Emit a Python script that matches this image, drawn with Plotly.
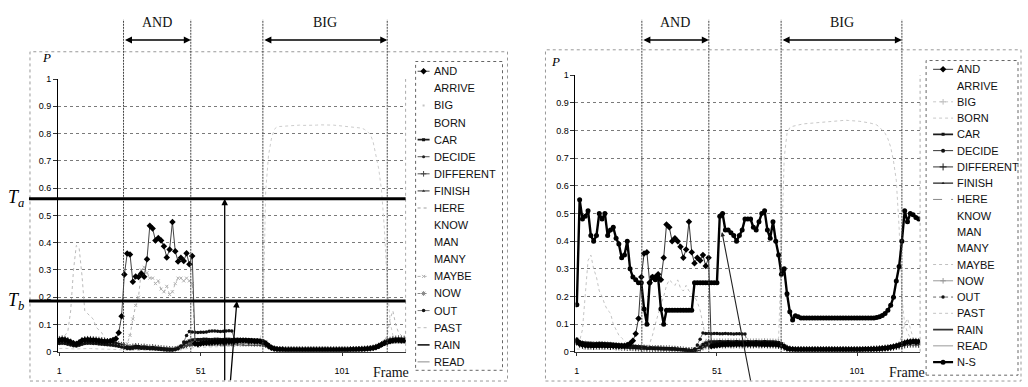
import plotly.graph_objects as go

W, H = 1028, 387
def fx(p): return p / W
def fy(p): return (H - p) / H

FRAMES = list(range(1, 124))
X_TICKS = [1, 51, 101]
Y_TICKS = [0, 0.1, 0.2, 0.3, 0.4, 0.5, 0.6, 0.7, 0.8, 0.9, 1.0]
Y_LABELS = ["0", "0.1", "0.2", "0.3", "0.4", "0.5", "0.6", "0.7", "0.8", "0.9", "1"]

TA, TB = 0.561, 0.186
REGIONS_L = [("AND", 23.7, 47.5), ("BIG", 73.0, 117.0)]
REGIONS_R = [("AND", 24.2, 48.1), ("BIG", 73.9, 117.0)]

LEGEND_L = ["AND", "ARRIVE", "BIG", "BORN", "CAR", "DECIDE", "DIFFERENT", "FINISH", "HERE",
            "KNOW", "MAN", "MANY", "MAYBE", "NOW", "OUT", "PAST", "RAIN", "READ"]
LEGEND_R = LEGEND_L + ["N-S"]

# ---------------- left panel values ----------------
L_AND = [.042,.044,.043,.040,.036,.031,.029,.034,.041,.043,
         .044,.043,.042,.041,.040,.039,.038,.038,.040,.043,
         .048,.070,.130,.283,.360,.357,.257,.276,.274,.287,
         .275,.339,.462,.452,.408,.417,.408,.387,.346,.375,
         .476,.369,.331,.345,.333,.361,.321,.351,.030,.028,
         .030,.032,.033,.034,.035,.036,.036,.037,.037,.038,
         .038,.039,.040,.040,.041,.041,.041,.040,.040,.039,
         .039,.038,.036,.030,.022,.015,.011,.009,.008,.008,
         .007,.007,.007,.007,.007,.007,.007,.007,.007,.007,
         .007,.007,.007,.007,.007,.007,.007,.007,.007,.007,
         .007,.007,.007,.008,.008,.008,.009,.009,.010,.011,
         .012,.014,.017,.021,.027,.032,.036,.039,.041,.042,
         .042,.041,.041]
L_BIG = [.012,.013,.013,.012,.011,.010,.010,.011,.012,.012,
         .012,.012,.011,.011,.011,.010,.010,.010,.009,.009,
         .008,.008,.007,.006,.005,.005,.005,.005,.005,.005,
         .005,.005,.005,.005,.005,.005,.005,.005,.005,.005,
         .005,.005,.006,.008,.010,.012,.014,.015,.016,.016,
         .017,.017,.017,.018,.018,.018,.019,.019,.019,.020,
         .020,.021,.022,.023,.024,.025,.026,.027,.028,.030,
         .033,.045,.100,.590,.720,.780,.815,.825,.826,.827,
         .828,.829,.830,.830,.831,.831,.830,.830,.829,.829,
         .830,.831,.832,.832,.833,.833,.832,.831,.830,.829,
         .828,.828,.827,.826,.825,.824,.823,.820,.815,.808,
         .798,.770,.720,.670,.590,.450,.250,.110,.060,.045,
         .040,.038,.036]
L_OUT = [.030,.031,.030,.028,.025,.022,.021,.024,.028,.030,
         .031,.031,.030,.030,.029,.028,.027,.026,.025,.024,
         .022,.020,.018,.015,.012,.011,.013,.015,.014,.013,
         .013,.012,.011,.011,.010,.009,.008,.007,.006,.006,
         .006,.008,.012,.020,.036,.060,.074,.073,.072,.071,
         .072,.072,.073,.075,.076,.076,.075,.074,.075,.076,
         .077,.076,.046,.044,.043,.043,.042,.042,.041,.041,
         .040,.040,.038,.032,.024,.017,.012,.010,.009,.009,
         .008,.008,.008,.008,.008,.008,.008,.008,.008,.008,
         .008,.008,.008,.008,.008,.008,.008,.008,.008,.008,
         .008,.008,.008,.008,.009,.009,.009,.010,.010,.011,
         .012,.013,.015,.018,.023,.029,.034,.038,.040,.041,
         .041,.040,.040]
L_PAST = [.050,.052,.060,.075,.150,.300,.390,.380,.280,.150,
          .140,.130,.120,.090,.080,.070,.050,.040,.035,.030,
          .028,.026,.024,.022,.020,.019,.020,.021,.020,.019,
          .019,.018,.017,.017,.016,.015,.014,.013,.012,.012,
          .011,.012,.014,.017,.020,.023,.025,.026,.027,.027,
          .027,.028,.028,.028,.028,.029,.029,.029,.029,.029,
          .029,.029,.029,.029,.028,.028,.028,.028,.027,.027,
          .027,.026,.025,.022,.018,.014,.011,.010,.009,.009,
          .009,.009,.009,.009,.009,.009,.009,.009,.009,.009,
          .009,.009,.009,.009,.009,.009,.009,.009,.009,.009,
          .009,.009,.009,.010,.010,.010,.011,.011,.012,.013,
          .014,.016,.019,.024,.030,.040,.060,.120,.150,.100,
          .070,.060,.050]
L_MAYBE = [.030,.031,.030,.028,.026,.023,.022,.025,.028,.030,
           .031,.031,.030,.030,.029,.028,.027,.026,.025,.024,
           .022,.021,.020,.020,.030,.060,.120,.170,.200,.300,
           .310,.290,.270,.270,.250,.260,.230,.220,.240,.210,
           .220,.250,.270,.270,.260,.270,.260,.250,.030,.030,
           .031,.031,.031,.032,.032,.032,.032,.032,.032,.032,
           .032,.032,.032,.032,.032,.031,.031,.031,.031,.030,
           .030,.029,.028,.025,.020,.015,.012,.010,.009,.009,
           .009,.009,.009,.009,.009,.009,.009,.009,.009,.009,
           .009,.009,.009,.009,.009,.009,.009,.009,.009,.009,
           .009,.009,.009,.009,.010,.010,.010,.011,.011,.012,
           .013,.014,.016,.019,.023,.028,.032,.035,.037,.038,
           .038,.038,.037]
L_CAR = [.045,.047,.045,.041,.036,.030,.028,.032,.040,.044,
         .045,.045,.044,.043,.042,.041,.039,.037,.035,.033,
         .030,.027,.024,.021,.018,.016,.018,.020,.019,.017,
         .018,.016,.015,.016,.014,.013,.012,.011,.010,.009,
         .008,.010,.014,.020,.028,.035,.040,.043,.044,.045,
         .045,.046,.046,.045,.045,.046,.046,.045,.045,.046,
         .046,.045,.045,.046,.045,.045,.044,.045,.044,.043,
         .043,.042,.040,.035,.026,.018,.013,.011,.010,.009,
         .009,.009,.009,.009,.009,.009,.009,.009,.009,.009,
         .009,.009,.009,.009,.009,.009,.009,.009,.009,.009,
         .009,.009,.009,.009,.010,.010,.010,.011,.011,.012,
         .013,.015,.018,.022,.028,.034,.039,.043,.045,.046,
         .046,.046,.045]
L_DECIDE = [.040,.042,.040,.037,.032,.027,.025,.029,.036,.040,
            .041,.040,.040,.039,.038,.037,.035,.034,.032,.030,
            .028,.025,.022,.019,.016,.014,.016,.018,.017,.015,
            .016,.014,.013,.014,.012,.011,.010,.009,.008,.007,
            .007,.009,.012,.018,.025,.031,.036,.039,.040,.041,
            .041,.041,.042,.041,.041,.042,.042,.041,.041,.042,
            .042,.041,.041,.042,.041,.041,.040,.041,.040,.039,
            .039,.038,.036,.031,.023,.016,.012,.010,.009,.008,
            .008,.008,.008,.008,.008,.008,.008,.008,.008,.008,
            .008,.008,.008,.008,.008,.008,.008,.008,.008,.008,
            .008,.008,.008,.008,.009,.009,.009,.010,.010,.011,
            .012,.014,.017,.020,.026,.031,.036,.039,.041,.042,
            .042,.042,.041]
L_DIFFERENT = [.048,.050,.048,.044,.038,.032,.030,.035,.043,.047,
               .048,.048,.047,.046,.045,.044,.042,.040,.038,.035,
               .032,.029,.026,.023,.020,.018,.020,.022,.021,.019,
               .020,.018,.017,.018,.016,.015,.014,.013,.012,.011,
               .010,.011,.013,.016,.020,.024,.027,.029,.030,.030,
               .030,.031,.031,.030,.030,.031,.031,.030,.030,.031,
               .031,.030,.030,.031,.030,.030,.030,.030,.030,.029,
               .029,.028,.027,.024,.019,.015,.012,.011,.010,.010,
               .010,.010,.010,.010,.010,.010,.010,.010,.010,.010,
               .010,.010,.010,.010,.010,.010,.010,.010,.010,.010,
               .010,.010,.010,.010,.011,.011,.011,.012,.012,.013,
               .014,.016,.019,.023,.029,.035,.041,.045,.048,.049,
               .050,.049,.049]
L_FINISH = [.036,.038,.036,.033,.029,.024,.023,.026,.032,.035,
            .036,.036,.035,.035,.034,.033,.031,.030,.028,.026,
            .024,.022,.019,.016,.014,.012,.014,.015,.014,.013,
            .014,.012,.011,.012,.010,.009,.008,.007,.006,.006,
            .006,.007,.010,.013,.017,.021,.024,.025,.026,.026,
            .026,.027,.027,.026,.026,.027,.027,.026,.026,.027,
            .027,.026,.026,.027,.026,.026,.026,.026,.026,.025,
            .025,.024,.023,.020,.015,.011,.009,.008,.007,.007,
            .007,.007,.007,.007,.007,.007,.007,.007,.007,.007,
            .007,.007,.007,.007,.007,.007,.007,.007,.007,.007,
            .007,.007,.007,.007,.008,.008,.008,.009,.009,.010,
            .011,.012,.015,.018,.023,.028,.032,.035,.037,.038,
            .038,.038,.037]
L_HERE = [.052,.054,.052,.048,.042,.036,.034,.038,.046,.051,
          .052,.052,.051,.050,.049,.047,.045,.043,.041,.038,
          .035,.032,.029,.026,.023,.021,.023,.025,.024,.022,
          .023,.021,.020,.021,.019,.018,.017,.016,.015,.014,
          .013,.014,.016,.019,.024,.028,.032,.034,.035,.035,
          .035,.036,.036,.035,.035,.036,.036,.035,.035,.036,
          .036,.035,.035,.036,.035,.035,.035,.035,.035,.034,
          .034,.033,.031,.027,.021,.016,.014,.013,.012,.012,
          .012,.012,.012,.012,.012,.012,.012,.012,.012,.012,
          .012,.012,.012,.012,.012,.012,.012,.012,.012,.012,
          .012,.012,.012,.012,.013,.013,.013,.014,.014,.015,
          .016,.018,.021,.025,.031,.037,.043,.047,.050,.051,
          .052,.052,.051]
L_NOW = [.043,.045,.043,.039,.034,.029,.027,.031,.038,.042,
         .043,.043,.042,.041,.040,.039,.037,.036,.034,.032,
         .029,.026,.023,.020,.017,.015,.017,.019,.018,.016,
         .017,.015,.014,.015,.013,.012,.011,.010,.009,.008,
         .008,.010,.013,.019,.027,.034,.039,.042,.043,.043,
         .043,.044,.044,.043,.043,.044,.044,.043,.043,.044,
         .044,.043,.043,.044,.043,.043,.042,.043,.042,.041,
         .041,.040,.038,.033,.025,.018,.014,.012,.011,.011,
         .011,.011,.011,.011,.011,.011,.011,.011,.011,.011,
         .011,.011,.011,.011,.011,.011,.011,.011,.011,.011,
         .011,.011,.011,.011,.011,.012,.012,.012,.013,.013,
         .014,.016,.019,.023,.029,.035,.040,.044,.046,.047,
         .047,.047,.046]
L_RAIN = [.033,.035,.033,.030,.027,.023,.022,.024,.029,.032,
          .033,.033,.032,.032,.031,.030,.029,.028,.026,.024,
          .022,.020,.018,.015,.013,.011,.013,.014,.013,.012,
          .013,.011,.010,.011,.009,.008,.007,.006,.005,.005,
          .005,.007,.011,.017,.024,.030,.034,.037,.038,.038,
          .038,.039,.039,.038,.038,.039,.039,.038,.038,.039,
          .039,.038,.038,.039,.038,.038,.037,.038,.037,.036,
          .036,.035,.033,.028,.020,.013,.009,.007,.006,.006,
          .006,.006,.006,.006,.006,.006,.006,.006,.006,.006,
          .006,.006,.006,.006,.006,.006,.006,.006,.006,.006,
          .006,.006,.006,.006,.007,.007,.007,.008,.008,.009,
          .010,.012,.014,.017,.022,.027,.031,.034,.035,.036,
          .036,.036,.035]
L_READ = [.050,.052,.050,.046,.040,.034,.032,.036,.044,.049,
          .050,.050,.049,.048,.047,.046,.044,.042,.040,.037,
          .034,.031,.028,.025,.022,.020,.022,.024,.023,.021,
          .022,.020,.019,.020,.018,.017,.016,.015,.014,.013,
          .012,.013,.015,.018,.022,.025,.027,.028,.028,.028,
          .028,.029,.029,.028,.028,.029,.029,.028,.028,.029,
          .029,.028,.028,.029,.028,.028,.028,.028,.028,.027,
          .027,.026,.025,.022,.017,.013,.011,.010,.009,.009,
          .009,.009,.009,.009,.009,.009,.009,.009,.009,.009,
          .009,.009,.009,.009,.009,.009,.009,.009,.009,.009,
          .009,.009,.009,.009,.010,.010,.010,.011,.011,.012,
          .013,.015,.017,.020,.025,.030,.036,.040,.043,.044,
          .044,.044,.043]

# ---------------- right panel values ----------------
R_AND = [.040,.030,.027,.025,.024,.024,.023,.024,.024,.024,
         .024,.023,.023,.022,.022,.021,.021,.022,.025,.030,
         .040,.065,.120,.270,.355,.360,.250,.270,.270,.280,
         .260,.340,.460,.450,.400,.410,.400,.380,.340,.370,
         .470,.360,.320,.340,.330,.350,.310,.340,.020,.022,
         .024,.025,.026,.026,.027,.027,.027,.028,.028,.028,
         .028,.028,.028,.028,.028,.028,.027,.027,.027,.027,
         .027,.026,.025,.023,.018,.013,.010,.009,.008,.008,
         .008,.008,.008,.008,.008,.008,.008,.008,.008,.008,
         .008,.008,.008,.008,.008,.008,.008,.008,.008,.008,
         .008,.008,.008,.009,.009,.009,.010,.010,.011,.012,
         .013,.014,.016,.018,.021,.024,.028,.032,.035,.036,
         .037,.037,.036]
R_BIG = [.010,.010,.010,.010,.010,.009,.009,.009,.009,.009,
         .009,.009,.009,.008,.008,.008,.008,.008,.008,.007,
         .007,.007,.007,.006,.006,.006,.006,.006,.006,.006,
         .006,.006,.006,.006,.006,.006,.005,.005,.005,.005,
         .005,.005,.005,.007,.009,.011,.013,.014,.015,.015,
         .015,.016,.016,.016,.016,.017,.017,.017,.017,.018,
         .018,.018,.019,.019,.020,.020,.021,.022,.023,.024,
         .026,.030,.050,.350,.700,.790,.810,.815,.818,.820,
         .822,.824,.825,.826,.827,.828,.829,.830,.831,.832,
         .833,.834,.835,.836,.836,.837,.837,.836,.836,.835,
         .834,.833,.832,.830,.828,.826,.824,.820,.812,.802,
         .790,.770,.740,.690,.620,.450,.200,.100,.070,.050,
         .040,.036,.034]
R_OUT = [.030,.025,.022,.021,.020,.020,.019,.020,.020,.020,
         .020,.019,.019,.018,.018,.017,.017,.016,.016,.015,
         .015,.014,.014,.013,.013,.012,.012,.012,.011,.011,
         .011,.010,.010,.010,.009,.009,.008,.008,.007,.006,
         .006,.005,.010,.025,.045,.068,.066,.066,.065,.066,
         .066,.065,.065,.066,.065,.065,.064,.065,.065,.064,
         .064,.030,.030,.031,.031,.031,.031,.031,.031,.031,
         .031,.030,.029,.026,.020,.014,.011,.010,.009,.009,
         .009,.009,.009,.009,.009,.009,.009,.009,.009,.009,
         .009,.009,.009,.009,.009,.009,.009,.009,.009,.009,
         .009,.009,.009,.010,.010,.010,.011,.011,.012,.013,
         .014,.015,.017,.019,.022,.025,.029,.033,.035,.036,
         .036,.036,.035]
R_PAST = [.030,.040,.080,.200,.330,.350,.300,.270,.220,.200,
          .170,.150,.140,.100,.080,.060,.050,.040,.030,.025,
          .022,.020,.019,.018,.017,.016,.016,.015,.015,.014,
          .014,.013,.013,.013,.012,.011,.010,.009,.008,.007,
          .006,.005,.005,.008,.014,.020,.024,.026,.027,.027,
          .027,.027,.027,.027,.027,.027,.027,.027,.027,.027,
          .027,.027,.027,.027,.027,.027,.027,.027,.027,.027,
          .027,.026,.025,.023,.018,.013,.010,.009,.008,.008,
          .008,.008,.008,.008,.008,.008,.008,.008,.008,.008,
          .008,.008,.008,.008,.008,.008,.008,.008,.008,.008,
          .008,.008,.008,.009,.009,.009,.010,.010,.011,.012,
          .013,.014,.016,.018,.022,.030,.060,.100,.120,.080,
          .050,.040,.035]
R_MAYBE = [.028,.023,.021,.020,.019,.019,.018,.019,.019,.019,
           .019,.018,.018,.017,.017,.016,.016,.015,.015,.014,
           .014,.013,.013,.012,.012,.012,.030,.060,.100,.140,
           .170,.200,.240,.260,.250,.240,.260,.230,.220,.240,
           .220,.210,.200,.180,.150,.100,.050,.030,.024,.024,
           .024,.024,.024,.024,.024,.024,.024,.024,.024,.024,
           .024,.024,.024,.024,.024,.024,.024,.024,.024,.024,
           .024,.023,.023,.021,.016,.012,.009,.008,.007,.007,
           .007,.007,.007,.007,.007,.007,.007,.007,.007,.007,
           .007,.007,.007,.007,.007,.007,.007,.007,.007,.007,
           .007,.007,.008,.008,.008,.009,.009,.010,.011,.012,
           .013,.014,.015,.017,.019,.021,.023,.025,.026,.027,
           .027,.027,.026]
R_CAR = [.045,.036,.033,.031,.030,.029,.028,.029,.030,.030,
         .029,.028,.028,.027,.026,.025,.024,.023,.022,.021,
         .020,.019,.018,.017,.016,.015,.015,.014,.014,.014,
         .013,.013,.013,.012,.012,.011,.010,.009,.008,.007,
         .006,.005,.004,.008,.016,.026,.032,.035,.036,.036,
         .036,.037,.036,.036,.037,.036,.036,.037,.036,.036,
         .036,.037,.036,.036,.037,.036,.036,.037,.036,.036,
         .036,.035,.034,.030,.022,.015,.011,.010,.009,.009,
         .009,.009,.009,.009,.009,.009,.009,.009,.009,.009,
         .009,.009,.009,.009,.009,.009,.009,.009,.009,.009,
         .009,.009,.010,.010,.010,.011,.011,.012,.013,.014,
         .015,.016,.018,.020,.023,.026,.030,.034,.037,.038,
         .039,.039,.038]
R_DECIDE = [.040,.031,.028,.026,.025,.024,.024,.025,.025,.025,
            .025,.024,.024,.023,.022,.021,.020,.020,.019,.018,
            .017,.016,.015,.014,.014,.013,.013,.012,.012,.012,
            .011,.011,.011,.010,.010,.009,.008,.007,.006,.005,
            .005,.004,.004,.007,.014,.022,.027,.029,.030,.030,
            .030,.031,.030,.030,.031,.030,.030,.031,.030,.030,
            .030,.031,.030,.030,.031,.030,.030,.031,.030,.030,
            .030,.029,.028,.025,.019,.013,.010,.009,.008,.008,
            .008,.008,.008,.008,.008,.008,.008,.008,.008,.008,
            .008,.008,.008,.008,.008,.008,.008,.008,.008,.008,
            .008,.008,.009,.009,.009,.010,.010,.011,.012,.013,
            .014,.015,.017,.019,.021,.024,.027,.030,.032,.033,
            .034,.034,.033]
R_DIFFERENT = [.035,.027,.023,.021,.020,.020,.019,.020,.020,.020,
               .020,.020,.019,.019,.018,.018,.017,.017,.016,.016,
               .015,.014,.014,.013,.013,.012,.012,.012,.011,.011,
               .011,.010,.010,.010,.009,.009,.008,.007,.006,.005,
               .004,.004,.003,.006,.012,.018,.022,.024,.025,.025,
               .025,.026,.025,.025,.026,.025,.025,.026,.025,.025,
               .025,.026,.025,.025,.026,.025,.025,.026,.025,.025,
               .025,.024,.023,.021,.016,.012,.009,.008,.007,.007,
               .007,.007,.007,.007,.007,.007,.007,.007,.007,.007,
               .007,.007,.007,.007,.007,.007,.007,.007,.007,.007,
               .007,.007,.008,.008,.008,.009,.009,.010,.011,.012,
               .013,.014,.015,.017,.019,.021,.023,.025,.027,.028,
               .028,.028,.027]
R_FINISH = [.048,.039,.036,.035,.034,.033,.032,.033,.034,.034,
            .033,.032,.031,.030,.029,.028,.027,.026,.025,.024,
            .022,.021,.020,.019,.018,.017,.017,.016,.016,.015,
            .015,.014,.014,.013,.013,.012,.011,.010,.009,.008,
            .007,.006,.005,.009,.017,.025,.030,.032,.033,.033,
            .033,.034,.033,.033,.034,.033,.033,.034,.033,.033,
            .033,.034,.033,.033,.034,.033,.033,.034,.033,.033,
            .033,.032,.031,.028,.021,.014,.011,.010,.010,.010,
            .010,.010,.010,.010,.010,.010,.010,.010,.010,.010,
            .010,.010,.010,.010,.010,.010,.010,.010,.010,.010,
            .010,.010,.010,.011,.011,.012,.012,.013,.014,.015,
            .016,.017,.019,.021,.024,.028,.032,.036,.039,.041,
            .042,.042,.041]
R_HERE = [.038,.029,.025,.023,.022,.022,.021,.022,.022,.022,
          .022,.021,.021,.020,.020,.019,.019,.018,.018,.017,
          .016,.016,.015,.015,.014,.014,.013,.013,.013,.012,
          .012,.012,.011,.011,.010,.010,.009,.008,.007,.006,
          .005,.004,.004,.006,.011,.015,.018,.019,.020,.020,
          .020,.021,.020,.020,.021,.020,.020,.021,.020,.020,
          .020,.021,.020,.020,.021,.020,.020,.021,.020,.020,
          .020,.019,.019,.017,.014,.011,.009,.008,.008,.008,
          .008,.008,.008,.008,.008,.008,.008,.008,.008,.008,
          .008,.008,.008,.008,.008,.008,.008,.008,.008,.008,
          .008,.008,.008,.009,.009,.009,.010,.010,.011,.012,
          .013,.014,.015,.016,.018,.020,.022,.024,.025,.026,
          .026,.026,.025]
R_NOW = [.042,.034,.030,.029,.028,.027,.027,.028,.028,.028,
         .027,.027,.026,.025,.025,.024,.023,.022,.021,.020,
         .019,.018,.017,.016,.015,.015,.014,.014,.013,.013,
         .013,.012,.012,.012,.011,.010,.009,.008,.007,.006,
         .005,.005,.004,.009,.018,.027,.034,.037,.038,.038,
         .038,.039,.038,.038,.039,.038,.038,.039,.038,.038,
         .038,.039,.038,.038,.039,.038,.038,.039,.038,.038,
         .038,.037,.036,.032,.024,.016,.012,.011,.010,.010,
         .010,.010,.010,.010,.010,.010,.010,.010,.010,.010,
         .010,.010,.010,.010,.010,.010,.010,.010,.010,.010,
         .010,.010,.010,.011,.011,.011,.012,.012,.013,.014,
         .015,.016,.018,.021,.024,.028,.032,.036,.039,.040,
         .041,.041,.040]
R_RAIN = [.032,.024,.020,.019,.018,.018,.017,.018,.018,.018,
          .018,.018,.017,.017,.016,.016,.016,.015,.015,.015,
          .014,.014,.013,.013,.012,.012,.012,.011,.011,.011,
          .010,.010,.010,.009,.009,.008,.007,.006,.005,.004,
          .004,.003,.003,.005,.010,.016,.020,.021,.022,.022,
          .022,.023,.022,.022,.023,.022,.022,.023,.022,.022,
          .022,.023,.022,.022,.023,.022,.022,.023,.022,.022,
          .022,.021,.021,.019,.015,.011,.008,.007,.006,.006,
          .006,.006,.006,.006,.006,.006,.006,.006,.006,.006,
          .006,.006,.006,.006,.006,.006,.006,.006,.006,.006,
          .006,.006,.007,.007,.007,.008,.008,.009,.010,.011,
          .012,.013,.014,.016,.018,.020,.022,.024,.025,.026,
          .026,.026,.025]
R_READ = [.046,.037,.034,.032,.031,.031,.030,.031,.032,.032,
          .031,.031,.030,.029,.028,.027,.026,.025,.024,.023,
          .021,.020,.019,.018,.017,.016,.016,.015,.015,.014,
          .014,.013,.013,.013,.012,.011,.010,.009,.008,.007,
          .006,.005,.005,.008,.015,.021,.025,.027,.028,.028,
          .028,.029,.028,.028,.029,.028,.028,.029,.028,.028,
          .028,.029,.028,.028,.029,.028,.028,.029,.028,.028,
          .028,.027,.026,.024,.018,.013,.010,.009,.009,.009,
          .009,.009,.009,.009,.009,.009,.009,.009,.009,.009,
          .009,.009,.009,.009,.009,.009,.009,.009,.009,.009,
          .009,.009,.009,.010,.010,.010,.011,.011,.012,.013,
          .014,.015,.017,.019,.022,.025,.029,.033,.036,.037,
          .038,.038,.037]
R_NS = [.170,.550,.480,.490,.510,.420,.400,.420,.500,.480,
        .500,.420,.440,.450,.410,.390,.340,.350,.400,.300,
        .270,.260,.250,.250,.155,.100,.250,.270,.260,.270,
        .155,.100,.150,.150,.150,.150,.150,.150,.150,.150,
        .150,.150,.250,.250,.250,.250,.250,.250,.250,.250,
        .250,.490,.500,.440,.440,.430,.420,.400,.420,.440,
        .480,.480,.480,.450,.440,.470,.500,.510,.440,.410,
        .470,.400,.350,.280,.300,.210,.145,.115,.130,.127,
        .122,.122,.122,.122,.122,.122,.122,.122,.122,.122,
        .122,.122,.122,.122,.122,.122,.122,.122,.122,.122,
        .122,.122,.122,.122,.122,.122,.122,.124,.127,.131,
        .138,.150,.168,.197,.256,.308,.400,.510,.470,.500,
        .495,.485,.480]

DATA_L = {"AND": L_AND, "BIG": L_BIG, "CAR": L_CAR, "DECIDE": L_DECIDE, "DIFFERENT": L_DIFFERENT,
          "FINISH": L_FINISH, "HERE": L_HERE, "MAYBE": L_MAYBE, "NOW": L_NOW, "OUT": L_OUT,
          "PAST": L_PAST, "RAIN": L_RAIN, "READ": L_READ}
DATA_R = {"AND": R_AND, "BIG": R_BIG, "CAR": R_CAR, "DECIDE": R_DECIDE, "DIFFERENT": R_DIFFERENT,
          "FINISH": R_FINISH, "HERE": R_HERE, "MAYBE": R_MAYBE, "NOW": R_NOW, "OUT": R_OUT,
          "PAST": R_PAST, "RAIN": R_RAIN, "READ": R_READ, "N-S": R_NS}
for d in (DATA_L, DATA_R):
    for k, v in d.items():
        assert len(v) == len(FRAMES), (k, len(v))

# ---------------- styles ----------------
STYLE_L = {
    "AND": dict(color="#444", width=1, symbol="diamond", msize=5, mcolor="#000"),
    "BIG": dict(color="#cccccc", width=1, dash="dot", symbol="square", msize=2, mcolor="#c4c4c4",
                plot_marker=False, legend_line=False),
    "CAR": dict(color="#1a1a1a", width=1.6, symbol="square", msize=3, mcolor="#111"),
    "DECIDE": dict(color="#555", width=1, symbol="circle", msize=3, mcolor="#222"),
    "DIFFERENT": dict(color="#555", width=1, symbol="cross-thin-open", msize=4, mcolor="#444"),
    "FINISH": dict(color="#333", width=1, symbol="triangle-up", msize=3, mcolor="#333"),
    "HERE": dict(color="#a0a0a0", width=1, dash="dot"),
    "MAYBE": dict(color="#b4b4b4", width=1, dash="dot", symbol="x-thin-open", msize=3, mcolor="#b0b0b0"),
    "NOW": dict(color="#8a8a8a", width=1, dash="dot", symbol="asterisk-open", msize=4, mcolor="#888"),
    "OUT": dict(color="#7a7a7a", width=1, symbol="circle", msize=3.5, mcolor="#111"),
    "PAST": dict(color="#bababa", width=1, dash="dot"),
    "RAIN": dict(color="#2a2a2a", width=1.8),
    "READ": dict(color="#8c8c8c", width=1),
}
STYLE_R = {
    "AND": dict(color="#333", width=1, symbol="diamond", msize=5, mcolor="#000"),
    "BIG": dict(color="#c8c8c8", width=1, dash="dot", symbol="cross-thin-open", msize=4, mcolor="#bbbbbb",
                plot_marker=False),
    "BORN": dict(color="#c8c8c8", width=1, dash="dot"),
    "CAR": dict(color="#1a1a1a", width=1.6, symbol="square", msize=3, mcolor="#111"),
    "DECIDE": dict(color="#333", width=1, symbol="circle", msize=4, mcolor="#111"),
    "DIFFERENT": dict(color="#333", width=1, symbol="cross-thin-open", msize=5, mcolor="#222"),
    "FINISH": dict(color="#222", width=1.2, symbol="triangle-up", msize=3, mcolor="#222"),
    "HERE": dict(color="#888", width=1, dash="dash"),
    "MAYBE": dict(color="#c0c0c0", width=1, dash="dot"),
    "NOW": dict(color="#9a9a9a", width=1, symbol="cross-thin-open", msize=4, mcolor="#999"),
    "OUT": dict(color="#666", width=1, dash="dot", symbol="circle", msize=3.5, mcolor="#111"),
    "PAST": dict(color="#c4c4c4", width=1, dash="dot"),
    "RAIN": dict(color="#333", width=1.6),
    "READ": dict(color="#999", width=1),
    "N-S": dict(color="#000", width=2.4, symbol="circle", msize=5, mcolor="#000"),
}

SERIF = "Liberation Serif, Times New Roman, serif"
SANS = "Liberation Sans, Arial, sans-serif"

fig = go.Figure()

def marker_of(st):
    sym = st.get("symbol", "circle")
    mc = st.get("mcolor", st["color"])
    open_ = sym.endswith("-open")
    return dict(symbol=sym, size=st.get("msize", 4), color=mc,
                line=dict(width=1 if open_ else 0, color=mc))

def add_series(data, styles, order, xa, ya):
    for name in order:
        if name not in data:
            continue
        st = styles[name]
        with_marker = st.get("symbol") and st.get("plot_marker", True)
        fig.add_trace(go.Scatter(
            x=FRAMES, y=data[name], mode="lines+markers" if with_marker else "lines", name=name,
            line=dict(color=st["color"], width=st.get("width", 1), dash=st.get("dash", "solid")),
            marker=marker_of(st), xaxis=xa, yaxis=ya, showlegend=False, hoverinfo="skip"))

DRAW_ORDER_L = ["READ", "RAIN", "PAST", "HERE", "FINISH", "DIFFERENT", "DECIDE", "NOW",
                "CAR", "BIG", "MAYBE", "OUT", "AND"]
DRAW_ORDER_R = ["READ", "RAIN", "PAST", "HERE", "FINISH", "DIFFERENT", "DECIDE", "NOW",
                "CAR", "BIG", "MAYBE", "OUT", "AND", "N-S"]
add_series(DATA_L, STYLE_L, DRAW_ORDER_L, "x", "y")
add_series(DATA_R, STYLE_R, DRAW_ORDER_R, "x2", "y2")

def ann(x, y, text, font, xref="paper", yref="paper", xanchor="center", yanchor="middle"):
    return dict(x=x, y=y, xref=xref, yref=yref, text=text, showarrow=False,
                xanchor=xanchor, yanchor=yanchor, font=font)

# ---------------- manual legends ----------------
def add_legend(words, styles, xa, ya, top, step, sx0, sx1, tx):
    anns = []
    for i, w in enumerate(words):
        yy = top + step * i
        st = styles.get(w)
        if st is not None:
            if st.get("legend_line", True):
                fig.add_trace(go.Scatter(x=[sx0, sx1], y=[yy, yy], mode="lines",
                                         line=dict(color=st["color"], width=st.get("width", 1),
                                                   dash=st.get("dash", "solid")),
                                         xaxis=xa, yaxis=ya, showlegend=False, hoverinfo="skip"))
            if st.get("symbol"):
                fig.add_trace(go.Scatter(x=[(sx0 + sx1) / 2], y=[yy], mode="markers",
                                         marker=marker_of(st), xaxis=xa, yaxis=ya,
                                         showlegend=False, hoverinfo="skip"))
        anns.append(ann(fx(tx), fy(yy), w, dict(family=SANS, size=11, color="#111"), xanchor="left"))
    return anns

annotations = []
annotations += add_legend(LEGEND_L, STYLE_L, "x3", "y3", 68, 17.55, 417, 429, 431)
annotations += add_legend(LEGEND_R, STYLE_R, "x4", "y4", 66, 16.7, 933, 953, 955)

TF = dict(family=SANS, size=9, color="#000")

def xaxis_cfg(domain, anchor):
    return dict(domain=domain, range=[0.5, 123.5], tickmode="array", tickvals=X_TICKS,
                ticktext=[str(t) for t in X_TICKS], showgrid=False, zeroline=False,
                showline=True, linecolor="#333", linewidth=1, ticks="outside", ticklen=3,
                tickcolor="#333", tickfont=TF, ticklabelstandoff=7, anchor=anchor, fixedrange=True)

def yaxis_cfg(domain, anchor):
    return dict(domain=domain, range=[0, 1], tickmode="array", tickvals=Y_TICKS,
                ticktext=Y_LABELS, showgrid=True, gridcolor="#7a7a7a", griddash="dot",
                gridwidth=1, zeroline=False, showline=True, linecolor="#000", linewidth=1,
                ticks="outside", ticklen=4, tickcolor="#333", tickfont=TF, anchor=anchor,
                fixedrange=True)

shapes = []
# outer chart borders
shapes.append(dict(type="rect", xref="paper", yref="paper", x0=fx(29), x1=fx(507), y0=fy(386), y1=fy(48),
                   line=dict(color="#999", width=1, dash="dot")))
shapes.append(dict(type="rect", xref="paper", yref="paper", x0=fx(545), x1=fx(1021), y0=fy(386), y1=fy(46),
                   line=dict(color="#999", width=1, dash="dot")))
# plot area right borders
shapes.append(dict(type="line", xref="paper", yref="paper", x0=fx(405), x1=fx(405), y0=fy(356), y1=fy(76),
                   line=dict(color="#aaa", width=1, dash="dot")))
shapes.append(dict(type="line", xref="paper", yref="paper", x0=fx(920), x1=fx(920), y0=fy(356), y1=fy(72),
                   line=dict(color="#aaa", width=1, dash="dot")))
# legend boxes
shapes.append(dict(type="rect", xref="paper", yref="paper", x0=fx(415), x1=fx(502), y0=fy(375), y1=fy(58),
                   line=dict(color="#666", width=1, dash="dot")))
shapes.append(dict(type="rect", xref="paper", yref="paper", x0=fx(926), x1=fx(1018), y0=fy(380), y1=fy(57),
                   line=dict(color="#666", width=1, dash="dot")))

# word regions
for regions, xa in ((REGIONS_L, "x"), (REGIONS_R, "x2")):
    for label, a, b in regions:
        for xv in (a, b):
            shapes.append(dict(type="line", xref=xa, yref="paper", x0=xv, x1=xv, y0=fy(357), y1=fy(15),
                               line=dict(color="#444", width=1, dash="2px,1px")))
        annotations.append(dict(x=b, y=fy(36), xref=xa, yref="paper", ax=a, ay=0, axref=xa, ayref="pixel",
                                text="", showarrow=True, arrowhead=2, arrowside="end+start",
                                arrowsize=1, arrowwidth=1.4, arrowcolor="#000", standoff=0, startstandoff=0))
        annotations.append(ann((a + b) / 2, fy(18), label, dict(family=SERIF, size=14, color="#111"), xref=xa))

# thresholds (left panel)
for tv, lab in ((TA, "a"), (TB, "b")):
    shapes.append(dict(type="line", xref="paper", yref="y", x0=fx(28), x1=fx(405), y0=tv, y1=tv,
                       line=dict(color="#000", width=3)))
    annotations.append(ann(fx(5), tv, "<i>T</i><sub><i>" + lab + "</i></sub>",
                           dict(family=SERIF, size=18, color="#000"), yref="y", xanchor="left"))

# pointer arrows
annotations.append(dict(x=59.5, y=TA, xref="x", yref="y", ax=59.5, ay=-0.11, axref="x", ayref="y",
                        text="", showarrow=True, arrowhead=2, arrowsize=1, arrowwidth=1.3, arrowcolor="#000",
                        standoff=0))
annotations.append(dict(x=63.8, y=TB, xref="x", yref="y", ax=61.5, ay=-0.11, axref="x", ayref="y",
                        text="", showarrow=True, arrowhead=2, arrowsize=1, arrowwidth=1.3, arrowcolor="#000",
                        standoff=0))
annotations.append(dict(x=52.8, y=0.433, xref="x2", yref="y2", ax=63.1, ay=-0.109, axref="x2", ayref="y2",
                        text="", showarrow=True, arrowhead=2, arrowsize=0.8, arrowwidth=1.1, arrowcolor="#222",
                        standoff=0))

# axis titles
annotations.append(ann(fx(46), fy(54), "<i>P</i>", dict(family=SERIF, size=13, color="#000")))
annotations.append(ann(fx(555), fy(58), "<i>P</i>", dict(family=SERIF, size=13, color="#000")))
annotations.append(ann(fx(390), fy(377), "Frame", dict(family=SERIF, size=14, color="#111")))
annotations.append(ann(fx(907), fy(377), "Frame", dict(family=SERIF, size=14, color="#111")))

fig.update_layout(
    width=W, height=H, margin=dict(l=0, r=0, t=0, b=0),
    paper_bgcolor="white", plot_bgcolor="white", showlegend=False,
    xaxis=xaxis_cfg([fx(57), fx(405)], "y"),
    yaxis=yaxis_cfg([fy(356), fy(76)], "x"),
    xaxis2=xaxis_cfg([fx(575), fx(920)], "y2"),
    yaxis2=yaxis_cfg([fy(356), fy(72)], "x2"),
    xaxis3=dict(domain=[fx(415), fx(502)], range=[415, 502], visible=False, anchor="y3", fixedrange=True),
    yaxis3=dict(domain=[fy(375), fy(58)], range=[375, 58], visible=False, anchor="x3", fixedrange=True),
    xaxis4=dict(domain=[fx(926), fx(1018)], range=[926, 1018], visible=False, anchor="y4", fixedrange=True),
    yaxis4=dict(domain=[fy(380), fy(57)], range=[380, 57], visible=False, anchor="x4", fixedrange=True),
    shapes=shapes, annotations=annotations,
)

# remove the browser's default 8px page margin so the figure sits at the window origin
fig.write_html("out.html", config={"displayModeBar": False},
               post_script="document.body.style.margin='0';document.body.style.padding='0';"
                           "document.body.style.overflow='hidden';")
